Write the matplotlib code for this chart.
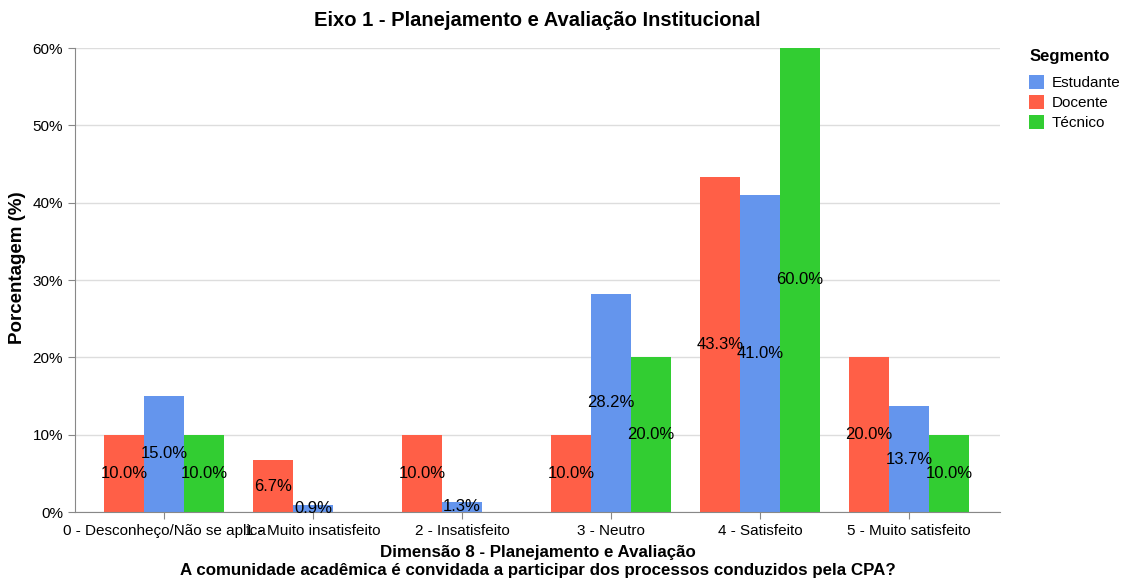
import numpy as np
import matplotlib
matplotlib.use("Agg")
import matplotlib.pyplot as plt
from matplotlib.patches import Patch

plt.rcParams['font.family'] = ['Liberation Sans', 'DejaVu Sans']

categories = ['0 - Desconheço/Não se aplica', '1 - Muito insatisfeito', '2 - Insatisfeito',
              '3 - Neutro', '4 - Satisfeito', '5 - Muito satisfeito']
docente = [10.0, 6.7, 10.0, 10.0, 43.3, 20.0]
estudante = [15.0, 0.9, 1.3, 28.2, 41.0, 13.7]
tecnico = [10.0, None, None, 20.0, 60.0, 10.0]

series = [('Docente', docente, '#FF5F47'),
          ('Estudante', estudante, '#6495ED'),
          ('Técnico', tecnico, '#32CD32')]

fig = plt.figure(figsize=(11.23, 5.80), dpi=100)
ax = fig.add_axes([75 / 1123, 1 - 512 / 580, 925 / 1123, 464 / 580])

step = 149.0
bw = 40 / step
x = np.arange(len(categories))
offsets = [-bw, 0, bw]

for (name, vals, color), off in zip(series, offsets):
    for xi, v in zip(x, vals):
        if v is None:
            continue
        ax.bar(xi + off, v, width=bw, color=color, edgecolor='none', zorder=2)
        ax.text(xi + off, v / 2, f'{v:.1f}%', ha='center', va='center',
                fontsize=12, color='black', zorder=3)

left = -89 / step
ax.set_xlim(left, left + 925 / step)
ax.set_ylim(0, 60)
ax.set_yticks(np.arange(0, 61, 10))
ax.set_yticklabels([f'{t}%' for t in range(0, 61, 10)])
ax.set_xticks(x)
ax.set_xticklabels(categories)
ax.grid(axis='y', color='#dddddd', linewidth=1, zorder=0)
ax.set_axisbelow(True)

for s in ['top', 'right']:
    ax.spines[s].set_visible(False)
for s in ['left', 'bottom']:
    ax.spines[s].set_color('#888888')
ax.tick_params(axis='both', colors='#888888', labelcolor='black', labelsize=11, length=5)

ax.set_ylabel('Porcentagem (%)', fontsize=13.5, fontweight='bold')
ax.yaxis.set_label_coords(-49 / 925, (512 - 268) / 464)
ax.set_xlabel('Dimensão 8 - Planejamento e Avaliação\n'
              'A comunidade acadêmica é convidada a participar dos processos conduzidos pela CPA?',
              fontsize=12.2, fontweight='bold', labelpad=5, linespacing=1.3)
fig.text(537 / 1123, 1 - 21 / 580, 'Eixo 1 - Planejamento e Avaliação Institucional',
         ha='center', va='center', fontsize=14.5, fontweight='bold')

# legend: title drawn separately to match the spacing
fig.text(1030 / 1123, 1 - 57 / 580, 'Segmento', ha='left', va='center',
         fontsize=12, fontweight='bold')
handles = [Patch(facecolor=c, label=n) for n, _, c in
           [series[1], series[0], series[2]]]
leg = fig.legend(handles=handles, loc='upper left',
                 bbox_to_anchor=(1024 / 1123, 1 - 70.5 / 580), frameon=False,
                 fontsize=11, handlelength=1.0, handleheight=1.0, handletextpad=0.5,
                 labelspacing=0.32, borderaxespad=0, borderpad=0.3)

fig.savefig('out.png', dpi=100)
